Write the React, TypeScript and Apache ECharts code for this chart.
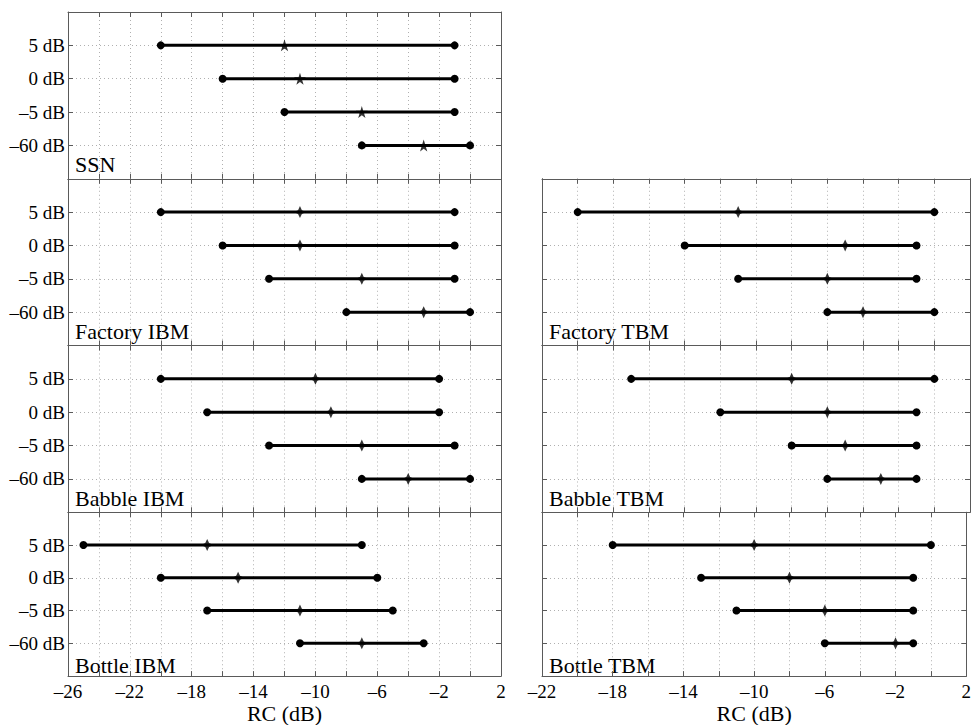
import React, { useEffect, useRef } from "react";
import * as echarts from "echarts";

// ---- data ----
const snrLevels = ["5 dB", "0 dB", "–5 dB", "–60 dB"];
const panelNames = ["SSN", "Factory IBM", "Babble IBM", "Bottle IBM", "Factory TBM", "Babble TBM", "Bottle TBM"];

const ssnLow = [-20, -16, -12, -7];
const ssnMid = [-12, -11, -7, -3];
const ssnHigh = [-1, -1, -1, 0];

const factoryIbmLow = [-20, -16, -13, -8];
const factoryIbmMid = [-11, -11, -7, -3];
const factoryIbmHigh = [-1, -1, -1, 0];

const babbleIbmLow = [-20, -17, -13, -7];
const babbleIbmMid = [-10, -9, -7, -4];
const babbleIbmHigh = [-2, -2, -1, 0];

const bottleIbmLow = [-25, -20, -17, -11];
const bottleIbmMid = [-17, -15, -11, -7];
const bottleIbmHigh = [-7, -6, -5, -3];

const factoryTbmLow = [-20, -14, -11, -6];
const factoryTbmMid = [-11, -5, -6, -4];
const factoryTbmHigh = [0, -1, -1, 0];

const babbleTbmLow = [-17, -12, -8, -6];
const babbleTbmMid = [-8, -6, -5, -3];
const babbleTbmHigh = [0, -1, -1, -1];

const bottleTbmLow = [-18, -13, -11, -6];
const bottleTbmMid = [-10, -8, -6, -2];
const bottleTbmHigh = [0, -1, -1, -1];

const leftTickLabels = [-26, -22, -18, -14, -10, -6, -2, 2];
const rightTickLabels = [-22, -18, -14, -10, -6, -2, 2];

const FONT = "Liberation Serif";
const STAR = "path://M50,0 L61,35 L98,35 L68,57 L79,91 L50,70 L21,91 L32,57 L2,35 L39,35 Z";
const PLUS = "path://M0,-10 L3.2,-3.2 L10,0 L3.2,3.2 L0,10 L-3.2,3.2 L-10,0 L-3.2,-3.2 Z";

const fmt = (v: number) => (v < 0 ? "–" + Math.abs(v) : String(v));

export default function App() {
  const ref = useRef<HTMLDivElement>(null);

  useEffect(() => {
    if (!ref.current) return;
    const chart = echarts.init(ref.current, null, { renderer: "svg" });

    const panels = [
      { low: ssnLow, mid: ssnMid, high: ssnHigh, col: 0, row: 0, marker: STAR, msize: 12 },
      { low: factoryIbmLow, mid: factoryIbmMid, high: factoryIbmHigh, col: 0, row: 1, marker: PLUS, msize: 12 },
      { low: babbleIbmLow, mid: babbleIbmMid, high: babbleIbmHigh, col: 0, row: 2, marker: PLUS, msize: 12 },
      { low: bottleIbmLow, mid: bottleIbmMid, high: bottleIbmHigh, col: 0, row: 3, marker: PLUS, msize: 12 },
      { low: factoryTbmLow, mid: factoryTbmMid, high: factoryTbmHigh, col: 1, row: 1, marker: PLUS, msize: 12 },
      { low: babbleTbmLow, mid: babbleTbmMid, high: babbleTbmHigh, col: 1, row: 2, marker: PLUS, msize: 12 },
      { low: bottleTbmLow, mid: bottleTbmMid, high: bottleTbmHigh, col: 1, row: 3, marker: PLUS, msize: 12 },
    ];

    const colLeft = [68, 542];
    const colWidth = [433, 428];
    const rowTop0 = 12;
    const rowH = 166.75;
    const colMin = [-26, -22];
    const colMax = [2, 2];
    const colLabels = [leftTickLabels, rightTickLabels];

    const grid: any[] = [];
    const xAxis: any[] = [];
    const yAxis: any[] = [];
    const series: any[] = [];
    const graphic: any[] = [];

    const axisLineStyle = { color: "#5a5a5a", width: 1 };
    const splitStyle = { color: "#b0b0b0", width: 1, type: [1, 3] };

    panels.forEach((p, g) => {
      const top = rowTop0 + p.row * rowH;
      grid.push({ left: colLeft[p.col], top, width: colWidth[p.col], height: rowH, containLabel: false });
      const isBottom = p.row === 3;
      const labels = colLabels[p.col];
      xAxis.push({
        type: "value",
        gridIndex: g,
        position: "bottom",
        min: colMin[p.col],
        max: colMax[p.col],
        interval: 2,
        axisLine: { show: true, onZero: false, lineStyle: axisLineStyle },
        axisTick: { show: true, inside: true, length: 5, lineStyle: axisLineStyle },
        splitLine: { show: true, lineStyle: splitStyle },
        axisLabel: {
          show: isBottom,
          margin: 6,
          fontFamily: FONT,
          fontSize: 19,
          color: "#000",
          formatter: (v: number) => (labels.includes(Math.round(v)) ? fmt(Math.round(v)) : ""),
        },
        name: isBottom ? "RC (dB)" : "",
        nameLocation: "middle",
        nameGap: 25,
        nameTextStyle: { fontFamily: FONT, fontSize: 22, color: "#000" },
      });
      xAxis.push({
        type: "value",
        gridIndex: g,
        position: "top",
        min: colMin[p.col],
        max: colMax[p.col],
        interval: 2,
        axisLine: { show: true, onZero: false, lineStyle: axisLineStyle },
        axisTick: { show: true, inside: true, length: 5, lineStyle: axisLineStyle },
        splitLine: { show: false },
        axisLabel: { show: false },
      });
      yAxis.push({
        type: "value",
        gridIndex: g,
        position: "left",
        min: 0,
        max: 5,
        interval: 1,
        inverse: true,
        axisLine: { show: true, onZero: false, lineStyle: axisLineStyle },
        axisTick: { show: true, inside: true, length: 5, lineStyle: axisLineStyle },
        splitLine: { show: true, lineStyle: splitStyle },
        axisLabel: {
          show: p.col === 0,
          margin: 3,
          fontFamily: FONT,
          fontSize: 19,
          color: "#000",
          formatter: (v: number) => snrLevels[Math.round(v) - 1] ?? "",
        },
      });
      yAxis.push({
        type: "value",
        gridIndex: g,
        position: "right",
        min: 0,
        max: 5,
        interval: 1,
        inverse: true,
        axisLine: { show: true, onZero: false, lineStyle: axisLineStyle },
        axisTick: { show: true, inside: true, length: 5, lineStyle: axisLineStyle },
        splitLine: { show: false },
        axisLabel: { show: false },
      });

      snrLevels.forEach((_, i) => {
        series.push({
          type: "line",
          xAxisIndex: 2 * g,
          yAxisIndex: 2 * g,
          data: [
            [p.low[i], i + 1],
            [p.high[i], i + 1],
          ],
          symbol: "circle",
          symbolSize: 8,
          showSymbol: true,
          lineStyle: { color: "#000", width: 3 },
          itemStyle: { color: "#000" },
          z: 3,
        });
      });
      series.push({
        type: "scatter",
        xAxisIndex: 2 * g,
        yAxisIndex: 2 * g,
        data: snrLevels.map((_, i) => [p.mid[i], i + 1]),
        symbol: p.marker,
        symbolSize: p.msize,
        itemStyle: { color: "#000" },
        z: 5,
      });

      graphic.push({
        type: "text",
        left: colLeft[p.col] + 7,
        top: top + rowH - 25,
        style: { text: panelNames[g], fontFamily: FONT, fontSize: 22, fill: "#000" },
      });
    });

    chart.setOption({
      animation: false,
      backgroundColor: "#fff",
      grid,
      xAxis,
      yAxis,
      series,
      graphic,
    });

    return () => chart.dispose();
  }, []);

  return (
    <div
      ref={ref}
      style={{ position: "fixed", left: 0, top: 0, width: 974, height: 725, background: "#fff" }}
    />
  );
}
